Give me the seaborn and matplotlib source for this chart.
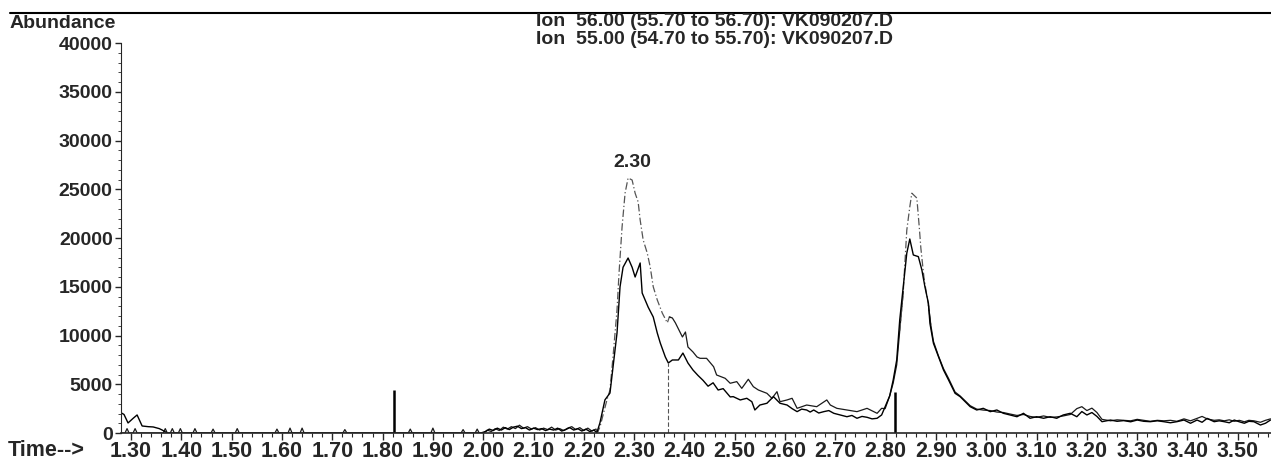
import numpy as np
import pandas as pd
import matplotlib
matplotlib.use("Agg")
import matplotlib.pyplot as plt
from matplotlib.lines import Line2D
import seaborn as sns

# --- data ---------------------------------------------------------------
ion55_time = [
    1.281, 1.286, 1.294, 1.304, 1.312, 1.322, 1.334, 1.344, 1.356, 1.362, 1.372,
    1.995, 2.005, 2.012, 2.020, 2.028, 2.036, 2.044, 2.052, 2.060, 2.068, 2.076,
    2.084, 2.092, 2.100, 2.108, 2.116, 2.124, 2.132, 2.140, 2.148, 2.156, 2.164,
    2.172, 2.180, 2.188, 2.196, 2.204, 2.212, 2.220, 2.226,
    2.232, 2.242, 2.252, 2.258, 2.266, 2.272, 2.278, 2.288, 2.296, 2.302, 2.312,
    2.316, 2.328, 2.338, 2.346, 2.352, 2.362, 2.368, 2.376, 2.388, 2.397, 2.407,
    2.417, 2.427, 2.437, 2.447, 2.457, 2.467, 2.477, 2.491, 2.497, 2.511, 2.524,
    2.534, 2.540, 2.550, 2.564, 2.577, 2.590, 2.604, 2.614, 2.624, 2.633, 2.643,
    2.650, 2.657, 2.667, 2.677, 2.687, 2.697, 2.710, 2.723, 2.733, 2.743, 2.753,
    2.763, 2.773, 2.783, 2.792, 2.799, 2.808, 2.815, 2.822, 2.828, 2.835, 2.842,
    2.848, 2.855, 2.865, 2.872, 2.878, 2.885, 2.888, 2.895, 2.905, 2.915, 2.925,
    2.938, 2.948, 2.958, 2.968, 2.981, 2.994, 3.008, 3.021, 3.034, 3.047, 3.061,
    3.074, 3.087, 3.100, 3.114, 3.127, 3.140, 3.153, 3.167, 3.180, 3.190, 3.200,
    3.210, 3.220, 3.230, 3.247, 3.260, 3.273, 3.287, 3.300, 3.313, 3.326, 3.340,
    3.353, 3.366, 3.379, 3.393, 3.406, 3.419, 3.429, 3.439, 3.453, 3.463, 3.473,
    3.483, 3.493, 3.503, 3.513, 3.522, 3.532, 3.545, 3.555, 3.565,
]
ion55_abund = [
    2050, 1900, 1030, 1500, 1850, 720, 650, 620, 450, 300, 0,
    0, 150, 400, 250, 500, 300, 550, 350, 600, 700, 450,
    550, 300, 500, 350, 450, 250, 400, 300, 500, 200, 350,
    550, 300, 450, 200, 400, 150, 300, 50,
    1030, 3400, 4100, 6770, 10260, 15000, 17000, 17950, 17000, 16000, 17440,
    14360, 12900, 11900, 10260, 9230, 7800, 7180, 7490, 7490, 8200, 7180,
    6460, 5900, 5400, 4800, 5150, 4410, 4550, 3700, 3730, 3390, 3560,
    3210, 2360, 2870, 3050, 3730, 3050, 2870, 2500, 2190, 2450, 2360,
    2150, 2360, 2050, 2190, 2300, 2020, 1850, 1670, 1800, 1510, 1700,
    1610, 1450, 1510, 1850, 2700, 3800, 5440, 7490, 11600, 15010, 18440,
    19900, 18260, 18090, 16720, 15010, 13310, 11250, 9200, 7830, 6460, 5440,
    4070, 3730, 3210, 2700, 2360, 2530, 2190, 2360, 2020, 1850, 1670,
    2020, 1510, 1670, 1510, 1670, 1510, 1850, 2020, 1670, 2200, 1850,
    2100, 1700, 1160, 1330, 1200, 1270, 1150, 1330, 1200, 1160, 1250,
    1160, 1050, 1160, 1330, 1000, 1330, 1100, 1500, 1160, 1250, 1160,
    1050, 1330, 1150, 1000, 1200, 1160, 820, 1000, 1330,
]

ion56_time = [
    1.282, 1.288, 1.292, 1.296, 1.304, 1.308, 1.312,
    1.364, 1.368, 1.372, 1.378, 1.382, 1.386, 1.394, 1.398, 1.402,
    1.423, 1.427, 1.431, 1.459, 1.463, 1.467, 1.507, 1.511, 1.515,
    1.586, 1.590, 1.594, 1.612, 1.616, 1.620, 1.636, 1.640, 1.644,
    1.721, 1.725, 1.729, 1.851, 1.855, 1.859, 1.896, 1.900, 1.904,
    1.956, 1.960, 1.964, 1.984, 1.988, 1.992,
    2.000, 2.008, 2.016, 2.024, 2.032, 2.040, 2.048, 2.056, 2.064, 2.072, 2.080,
    2.088, 2.096, 2.104, 2.112, 2.120, 2.128, 2.136, 2.144, 2.152, 2.160, 2.168,
    2.176, 2.184, 2.192, 2.200, 2.208, 2.216, 2.224, 2.228,
    2.232, 2.246, 2.252, 2.258, 2.266, 2.270, 2.276, 2.282, 2.288, 2.296, 2.302,
    2.308, 2.312, 2.318, 2.326, 2.332, 2.338, 2.346, 2.356, 2.366, 2.370, 2.376,
    2.382, 2.396, 2.402, 2.407, 2.417, 2.425, 2.431, 2.444, 2.458, 2.464, 2.481,
    2.491, 2.504, 2.514, 2.527, 2.537, 2.547, 2.564, 2.574, 2.584, 2.590, 2.604,
    2.614, 2.624, 2.643, 2.663, 2.683, 2.690, 2.703, 2.723, 2.743, 2.763, 2.783,
    2.792, 2.799, 2.808, 2.815, 2.822, 2.828, 2.835, 2.842, 2.848, 2.852, 2.858,
    2.862, 2.867, 2.870, 2.876, 2.880, 2.885, 2.890, 2.895, 2.905, 2.915, 2.925,
    2.938, 2.948, 2.958, 2.968, 2.981, 2.994, 3.008, 3.021, 3.034, 3.047, 3.061,
    3.074, 3.087, 3.100, 3.114, 3.127, 3.140, 3.153, 3.167, 3.180, 3.190, 3.200,
    3.210, 3.220, 3.230, 3.247, 3.260, 3.273, 3.287, 3.300, 3.313, 3.326, 3.340,
    3.353, 3.366, 3.379, 3.393, 3.406, 3.419, 3.429, 3.439, 3.453, 3.463, 3.473,
    3.483, 3.493, 3.503, 3.513, 3.522, 3.532, 3.545, 3.555, 3.565,
]
ion56_abund = [
    0, 0, 450, 0, 0, 450, 0,
    0, 450, 0, 0, 450, 0, 0, 450, 0,
    0, 450, 0, 0, 400, 0, 0, 450, 0,
    0, 400, 0, 0, 500, 0, 0, 500, 0,
    0, 350, 0, 0, 400, 0, 0, 500, 0,
    0, 350, 0, 0, 400, 0,
    0, 300, 150, 450, 250, 600, 400, 650, 450, 800, 500,
    650, 400, 550, 300, 500, 350, 600, 300, 450, 250, 500,
    650, 350, 550, 250, 500, 200, 400, 150,
    600, 3400, 4410, 7800, 12620, 16400, 21100, 24600, 26160, 25950, 24600,
    23700, 21850, 19800, 18470, 17030, 15000, 13650, 12300, 11300, 11900, 11800,
    11300, 9850, 10360, 8820, 8310, 7800, 7660, 7660, 6800, 5950, 5610,
    5100, 5270, 4580, 5510, 4750, 4410, 4070, 3560, 4240, 3210, 3390,
    3560, 2530, 2870, 2700, 3390, 2870, 2530, 2360, 2190, 2530, 2020,
    2530, 2500, 3800, 5130, 7000, 10500, 14500, 20800, 23200, 24600, 24300,
    24100, 21000, 18950, 16000, 14670, 13130, 11000, 9400, 7900, 6600, 5600,
    4200, 3800, 3300, 2800, 2450, 2350, 2300, 2150, 2100, 1950, 1800,
    1900, 1700, 1600, 1750, 1600, 1650, 1750, 1900, 2500, 2700, 2300,
    2550, 2100, 1400, 1250, 1350, 1300, 1250, 1400, 1300, 1200, 1300,
    1250, 1300, 1200, 1450, 1250, 1500, 1700, 1450, 1300, 1350, 1250,
    1350, 1200, 1300, 1150, 1300, 1250, 1100, 1300, 1450,
]

# stretches where the ion 56 trace prints faint/broken (steep flanks)
ion56_faint = [(2.228, 2.372), (2.835, 2.885)]

# integration / event markers (time, height)
marker_time = [1.822, 2.368, 2.819]
marker_top = [4400, 7200, 4250]

peak_label_time = 2.297
peak_label_abund = 27700
peak_label = "2.30"

header_lines = [
    "Ion  56.00 (55.70 to 56.70): VK090207.D",
    "Ion  55.00 (54.70 to 55.70): VK090207.D",
]
time_ticks = [1.30, 1.40, 1.50, 1.60, 1.70, 1.80, 1.90, 2.00, 2.10, 2.20, 2.30,
              2.40, 2.50, 2.60, 2.70, 2.80, 2.90, 3.00, 3.10, 3.20, 3.30, 3.40, 3.50]
abund_ticks = [0, 5000, 10000, 15000, 20000, 25000, 30000, 35000, 40000]

# --- plot ---------------------------------------------------------------
sns.set_style("ticks")
plt.rcParams["font.family"] = ["Liberation Sans", "DejaVu Sans"]
plt.rcParams["font.weight"] = "bold"

df55 = pd.DataFrame({"time": ion55_time, "abundance": ion55_abund})
df56 = pd.DataFrame({"time": ion56_time, "abundance": ion56_abund})

fig = plt.figure(figsize=(12.71, 4.62), dpi=100)
ax = fig.add_axes([121 / 1271, 29 / 462, 1150 / 1271, 420 / 462])

# ion 56: solid where noisy/flat, broken grey on the steep flanks
faint = np.zeros(len(df56), dtype=bool)
for lo, hi in ion56_faint:
    faint |= df56["time"].between(lo, hi).to_numpy()
edges = np.flatnonzero(np.diff(faint.astype(int))) + 1
bounds = [0] + list(edges) + [len(df56)]
for a, b in zip(bounds[:-1], bounds[1:]):
    seg = df56.iloc[max(a - 1, 0):b + 1]
    if faint[a]:
        sns.lineplot(data=seg, x="time", y="abundance", ax=ax, color="#555555",
                     linewidth=0.9, sort=False, estimator=None,
                     linestyle=(0, (6, 2, 1, 2)))
    else:
        sns.lineplot(data=seg, x="time", y="abundance", ax=ax, color="#1a1a1a",
                     linewidth=0.9, sort=False, estimator=None)

sns.lineplot(data=df55, x="time", y="abundance", ax=ax, color="black",
             linewidth=1.0, sort=False, estimator=None)

for i, (t, h) in enumerate(zip(marker_time, marker_top)):
    if i == 1:
        ax.vlines(t, 0, h, colors="#555555", linewidth=0.8, linestyles=(0, (4, 2)))
    else:
        ax.vlines(t, 0, h, colors="black", linewidth=1.8)

ax.text(peak_label_time, peak_label_abund, peak_label, ha="center", va="center",
        fontsize=14, fontweight="bold")

ax.set_xlim(1.280, 3.566)
ax.set_ylim(0, 43080)
ax.set_xticks(time_ticks)
ax.set_xticklabels([f"{t:.2f}" for t in time_ticks])
ax.set_xticks(np.arange(1.30, 3.57, 0.02), minor=True)
ax.set_yticks(abund_ticks)
ax.set_yticklabels([str(v) for v in abund_ticks])
ax.set_yticks(np.arange(0, 40001, 1000), minor=True)
ax.tick_params(axis="x", which="major", length=5, width=1, labelsize=15.5, pad=1)
ax.tick_params(axis="x", which="minor", length=3, width=0.8)
ax.tick_params(axis="y", which="major", length=4, width=1, labelsize=14, pad=2)
ax.tick_params(axis="y", which="minor", length=2, width=0.6)
for lab in ax.get_xticklabels() + ax.get_yticklabels():
    lab.set_fontweight("bold")

ax.set_xlabel("")
ax.set_ylabel("")
ax.spines["top"].set_visible(False)
ax.spines["right"].set_visible(False)
ax.spines["left"].set_bounds(0, 40000)
ax.spines["left"].set_linewidth(0.8)
ax.spines["bottom"].set_linewidth(1.2)

# page furniture of the printout
fig.add_artist(Line2D([10 / 1271, 1.0], [1 - 13 / 462, 1 - 13 / 462],
                      transform=fig.transFigure, color="black", linewidth=1.5))
fig.text(10 / 1271, 1 - 23 / 462, "Abundance", ha="left", va="center",
         fontsize=14, fontweight="bold")
fig.text(8 / 1271, 1 - 451 / 462, "Time-->", ha="left", va="center",
         fontsize=15.5, fontweight="bold")
for k, line in enumerate(header_lines):
    fig.text(893 / 1271, 1 - (21 + 19 * k) / 462, line, ha="right", va="center",
             fontsize=14, fontweight="bold")

fig.savefig("out.png", dpi=100)
